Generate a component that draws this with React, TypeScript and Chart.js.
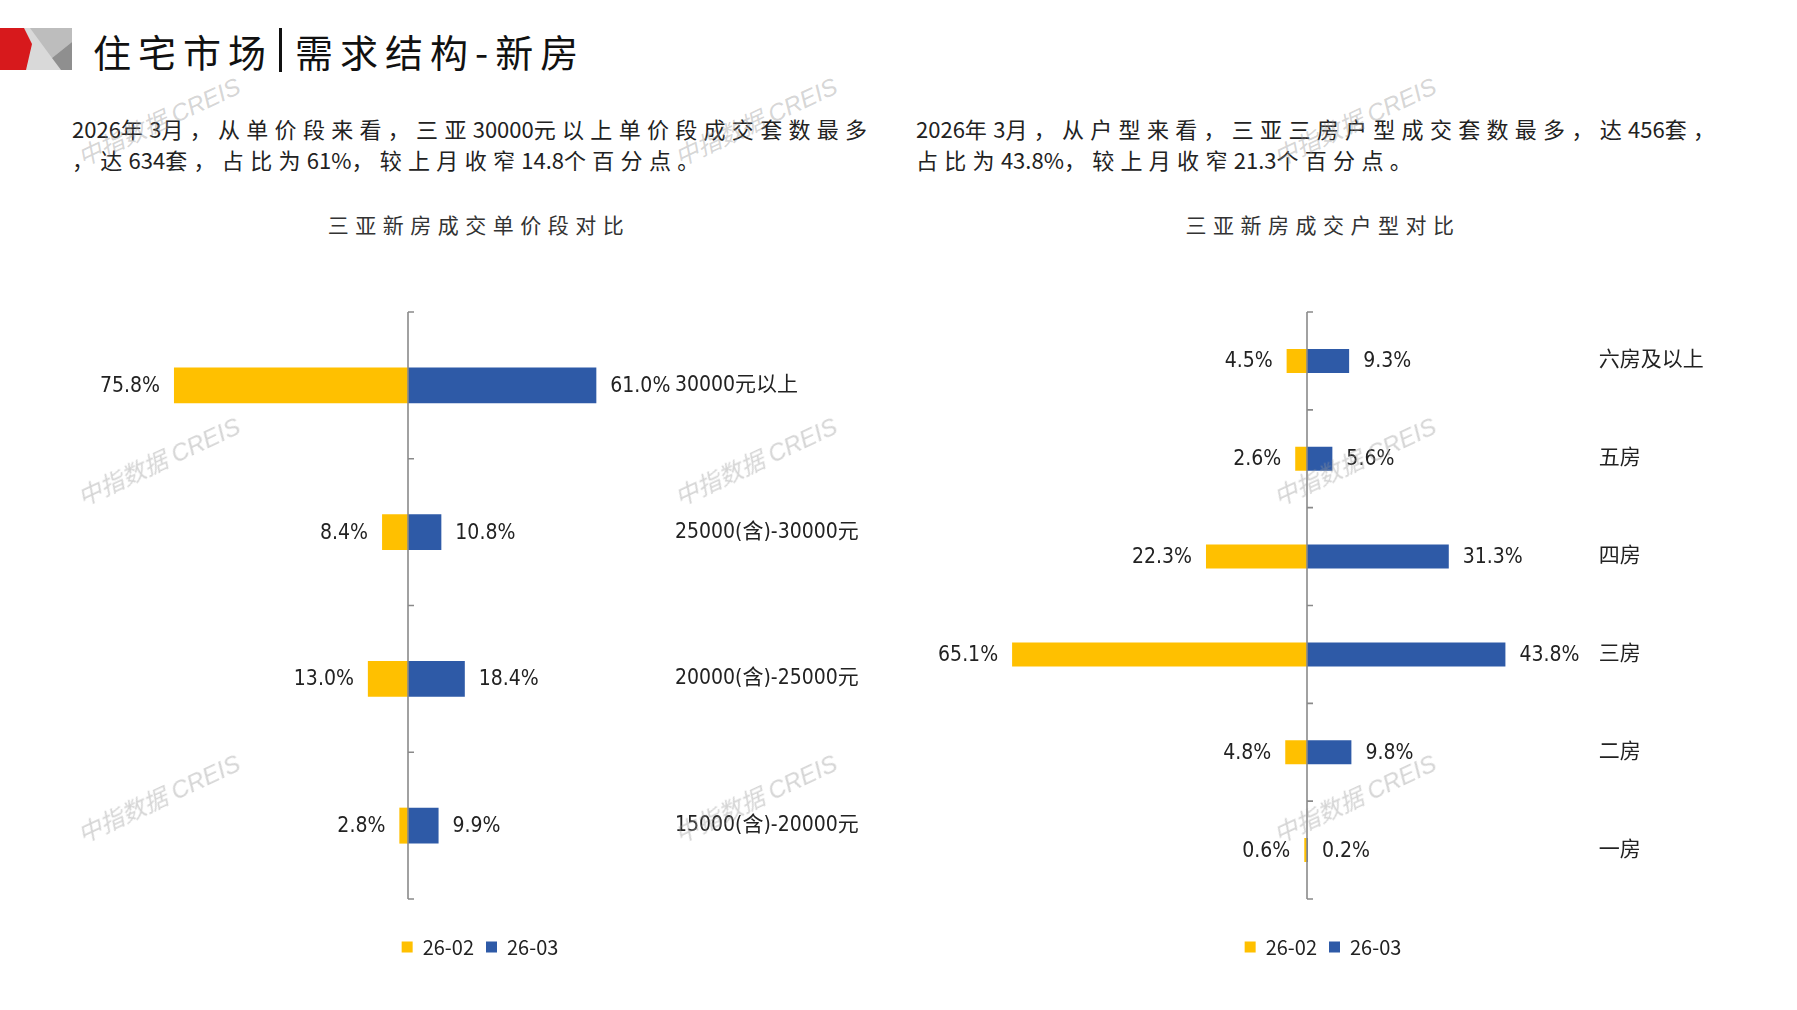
import React, { useEffect, useRef } from 'react';
import { Chart, registerables } from 'chart.js';

Chart.register(...registerables);

// ---------- data ----------
const SERIES_NAMES = ['26-02', '26-03'];

const PRICE_CATEGORIES = ['30000元以上', '25000(含)-30000元', '20000(含)-25000元', '15000(含)-20000元'];
const PRICE_FEB = [75.8, 8.4, 13.0, 2.8];
const PRICE_MAR = [61.0, 10.8, 18.4, 9.9];

const ROOM_CATEGORIES = ['六房及以上', '五房', '四房', '三房', '二房', '一房'];
const ROOM_FEB = [4.5, 2.6, 22.3, 65.1, 4.8, 0.6];
const ROOM_MAR = [9.3, 5.6, 31.3, 43.8, 9.8, 0.2];

const PAGE_TITLE_A = '住宅市场';
const PAGE_TITLE_B = '需求结构-新房';
const LEFT_TEXT = ['2026年3月，从单价段来看，三亚30000元以上单价段成交套数最多', '，达634套，占比为61%，较上月收窄14.8个百分点。'];
const RIGHT_TEXT = ['2026年3月，从户型来看，三亚三房户型成交套数最多，达456套，', '占比为43.8%，较上月收窄21.3个百分点。'];
const LEFT_CHART_TITLE = '三亚新房成交单价段对比';
const RIGHT_CHART_TITLE = '三亚新房成交户型对比';
const WATERMARK = '中指数据 CREIS';

// ---------- styles ----------
const YELLOW = '#FFC000';
const BLUE = '#2E5AA7';
const TEXT = '#222222';
const CJK = '"Noto Sans CJK SC", "Noto Sans", sans-serif';
const NARROW = '"Liberation Sans Narrow", "DejaVu Sans Condensed", "Noto Sans CJK SC", sans-serif';

const butterflyPlugin = {
  id: 'butterfly',
  afterLayout(chart: any) {
    const lg = chart.legend;
    const c = chart.options.plugins.butterfly && chart.options.plugins.butterfly.legendCenter;
    if (!lg || c == null) return;
    const half = (lg.right - lg.left) / 2;
    lg.left = c - half;
    lg.right = c + half;
  },
  afterDatasetsDraw(chart: any) {
    const { ctx, chartArea, scales } = chart;
    const x0 = scales.x.getPixelForValue(0);
    const yScale = scales.y;
    const n = chart.data.labels.length;
    ctx.save();
    ctx.strokeStyle = '#8a8a8a';
    ctx.lineWidth = 1.6;
    ctx.beginPath();
    ctx.moveTo(x0, chartArea.top);
    ctx.lineTo(x0, chartArea.bottom);
    for (let i = 0; i <= n; i++) {
      const py = yScale.getPixelForValue(i - 0.5);
      ctx.moveTo(x0, py);
      ctx.lineTo(x0 + 6, py);
    }
    ctx.stroke();

    ctx.font = '21px ' + NARROW;
    ctx.fillStyle = TEXT;
    ctx.textBaseline = 'middle';
    chart.data.datasets.forEach((ds: any, di: number) => {
      const meta = chart.getDatasetMeta(di);
      meta.data.forEach((bar: any, i: number) => {
        const v = ds.data[i];
        const txt = Math.abs(v).toFixed(1) + '%';
        if (v < 0) {
          ctx.textAlign = 'right';
          ctx.fillText(txt, bar.x - 14, bar.y + 1);
        } else {
          ctx.textAlign = 'left';
          ctx.fillText(txt, bar.x + 14, bar.y + 1);
        }
      });
    });
    ctx.restore();
  },
};

type Layout = {
  min: number;
  max: number;
  padLeft: number;
  yWidth: number;
  legendCenter: number;
};

function makeConfig(labels: string[], feb: number[], mar: number[], lay: Layout): any {
  return {
    type: 'bar',
    data: {
      labels,
      datasets: [
        {
          label: SERIES_NAMES[0],
          data: feb.map((v) => -v),
          backgroundColor: YELLOW,
          borderWidth: 0,
          categoryPercentage: 1,
          barPercentage: 0.245,
        },
        {
          label: SERIES_NAMES[1],
          data: mar,
          backgroundColor: BLUE,
          borderWidth: 0,
          categoryPercentage: 1,
          barPercentage: 0.245,
        },
      ],
    },
    options: {
      indexAxis: 'y',
      responsive: false,
      animation: false,
      events: [],
      layout: { padding: { left: lay.padLeft, right: 0, top: 52, bottom: 10 } },
      scales: {
        x: {
          type: 'linear',
          stacked: true,
          min: lay.min,
          max: lay.max,
          grid: { display: false, drawTicks: false },
          border: { display: false },
          ticks: { display: false },
          afterFit: (s: any) => {
            s.height = 26;
          },
        },
        y: {
          type: 'category',
          stacked: true,
          position: 'right',
          grid: { display: false, drawTicks: false },
          border: { display: false },
          ticks: {
            padding: 20,
            color: TEXT,
            font: { size: 21, family: NARROW },
          },
          afterFit: (s: any) => {
            s.width = lay.yWidth;
          },
        },
      },
      plugins: {
        butterfly: { legendCenter: lay.legendCenter },
        tooltip: { enabled: false },
        title: { display: false },
        legend: {
          display: true,
          position: 'bottom',
          labels: {
            boxWidth: 11,
            boxHeight: 11,
            padding: 12,
            color: TEXT,
            font: { size: 20, family: CJK },
          },
        },
      },
    },
    plugins: [butterflyPlugin],
  };
}

function ChartCanvas(props: { left: number; top: number; width: number; height: number; config: () => any }) {
  const ref = useRef<HTMLCanvasElement | null>(null);
  useEffect(() => {
    if (!ref.current) return;
    const chart = new Chart(ref.current, props.config());
    return () => chart.destroy();
  }, []);
  return (
    <canvas
      ref={ref}
      width={props.width}
      height={props.height}
      style={{ position: 'absolute', left: props.left, top: props.top, width: props.width, height: props.height }}
    />
  );
}

function Spaced({ text, ls }: { text: string; ls: number }) {
  const parts = text.match(/[\x00-\x7F]+|[^\x00-\x7F]+/g) || [];
  return (
    <>
      {parts.map((p, i) => (
        <span key={i} style={{ letterSpacing: /[\x00-\x7F]/.test(p[0]) ? 0 : ls }}>
          {p}
        </span>
      ))}
    </>
  );
}

function Paragraph({ left, lines }: { left: number; lines: string[] }) {
  return (
    <div
      style={{
        position: 'absolute',
        left,
        top: 113,
        fontFamily: CJK,
        fontSize: 22,
        lineHeight: '31px',
        color: TEXT,
        whiteSpace: 'pre',
      }}
    >
      {lines.map((l, i) => (
        <div key={i}>
          <Spaced text={l} ls={6.3} />
        </div>
      ))}
    </div>
  );
}

function ChartTitle({ cx, text }: { cx: number; text: string }) {
  return (
    <div
      style={{
        position: 'absolute',
        left: cx,
        top: 209,
        transform: 'translateX(-50%)',
        paddingLeft: 6,
        fontFamily: CJK,
        fontSize: 21,
        lineHeight: '30px',
        letterSpacing: 6.5,
        color: '#333',
        whiteSpace: 'nowrap',
      }}
    >
      {text}
    </div>
  );
}

const WM_X = [158, 755, 1354];
const WM_Y = [120, 460, 797];

export default function App() {
  return (
    <div
      style={{
        position: 'absolute',
        left: 0,
        top: 0,
        width: 1797,
        height: 1010,
        overflow: 'hidden',
        background: '#ffffff',
      }}
    >
      {/* logo */}
      <svg style={{ position: 'absolute', left: 0, top: 28 }} width={72} height={42} viewBox="0 0 72 42">
        <rect x={0} y={0} width={72} height={42} fill="#d9d9d9" />
        <polygon points="30,0 72,0 72,14 52,30" fill="#bdbdbd" />
        <polygon points="52,30 72,14 72,42 61,42" fill="#8f8f8f" />
        <polygon points="0,0 24,0 32,16 26,42 0,42" fill="#d7191c" />
      </svg>
      {/* page title */}
      <div
        style={{
          position: 'absolute',
          left: 93,
          top: 26,
          height: 48,
          display: 'flex',
          alignItems: 'center',
          fontFamily: CJK,
          fontSize: 38,
          color: '#111',
          whiteSpace: 'nowrap',
        }}
      >
        <span style={{ letterSpacing: 7 }}>{PAGE_TITLE_A}</span>
        <span style={{ display: 'inline-block', width: 3, height: 44, background: '#111', margin: '0 13px 0 6px' }} />
        <span style={{ letterSpacing: 7 }}>{PAGE_TITLE_B}</span>
      </div>

      <Paragraph left={72} lines={LEFT_TEXT} />
      <Paragraph left={916} lines={RIGHT_TEXT} />

      <ChartTitle cx={476} text={LEFT_CHART_TITLE} />
      <ChartTitle cx={1320} text={RIGHT_CHART_TITLE} />

      <ChartCanvas
        left={0}
        top={260}
        width={900}
        height={717}
        config={() =>
          makeConfig(PRICE_CATEGORIES, PRICE_FEB, PRICE_MAR, {
            min: -80,
            max: 80,
            padLeft: 161,
            yWidth: 245,
            legendCenter: 480,
          })
        }
      />
      <ChartCanvas
        left={900}
        top={260}
        width={897}
        height={717}
        config={() =>
          makeConfig(ROOM_CATEGORIES, ROOM_FEB, ROOM_MAR, {
            min: -80,
            max: 60,
            padLeft: 44.6,
            yWidth: 218.2,
            legendCenter: 423,
          })
        }
      />

      {/* watermarks */}
      {WM_Y.map((y) =>
        WM_X.map((x) => (
          <div
            key={x + '-' + y}
            style={{
              position: 'absolute',
              left: x,
              top: y,
              transform: 'translate(-50%, -50%) rotate(-25deg)',
              fontFamily: '"Liberation Sans", "Noto Sans CJK SC", sans-serif',
              fontStyle: 'italic',
              fontSize: 24,
              color: 'rgba(150,150,150,0.4)',
              whiteSpace: 'nowrap',
              pointerEvents: 'none',
            }}
          >
            {WATERMARK}
          </div>
        ))
      )}
    </div>
  );
}
